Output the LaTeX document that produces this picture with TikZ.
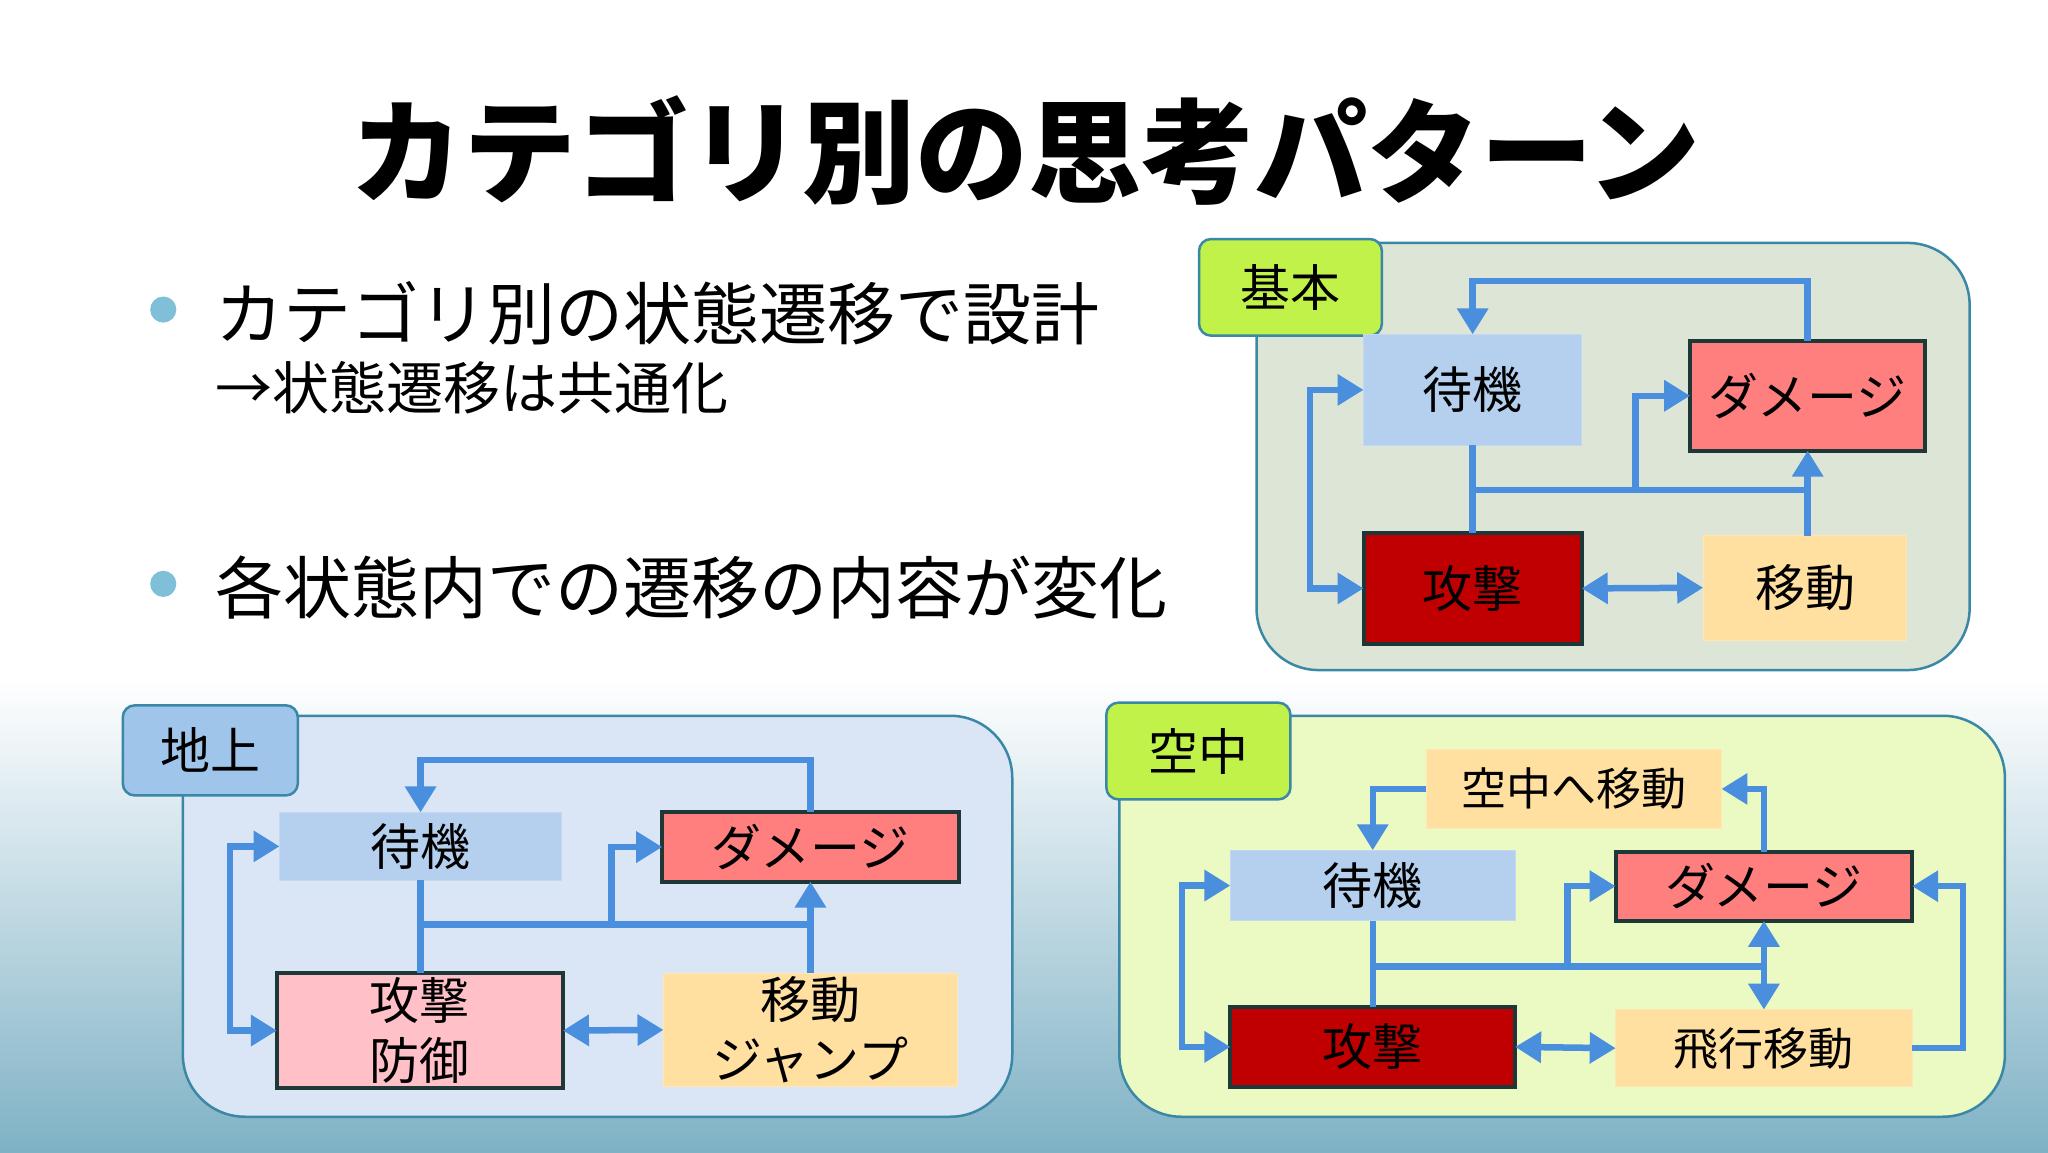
\documentclass[tikz,border=0pt]{standalone}
\usepackage{fontspec}
\setmainfont{Noto Sans CJK JP}
\usetikzlibrary{arrows.meta,calc}
\definecolor{arr}{HTML}{4A8EDE}
\definecolor{tealc}{HTML}{3A88A6}
\definecolor{idle}{HTML}{B4D0EE}
\definecolor{dmg}{HTML}{FF7F7F}
\definecolor{atk}{HTML}{C00000}
\definecolor{mov}{HTML}{FFE0A0}
\definecolor{pinkc}{HTML}{FFC0C8}
\definecolor{lime}{HTML}{C0F24A}
\definecolor{edgec}{HTML}{1E3838}
\definecolor{p1}{HTML}{DDE6D6}
\definecolor{p2}{HTML}{DAE6F5}
\definecolor{p3}{HTML}{EBFAC3}
\definecolor{tag2}{HTML}{9FC5EA}
\definecolor{bul}{HTML}{7FC0D8}
\tikzset{
  st/.style={inner sep=0pt,outer sep=0pt,font=\fontsize{50}{60}\selectfont,align=center},
  idlebox/.style={st,fill=idle,draw=idle!80!white,line width=1pt},
  dmgbox/.style={st,fill=dmg,draw=edgec,line width=4pt},
  atkbox/.style={st,fill=atk,draw=edgec,line width=4pt},
  pinkbox/.style={st,fill=pinkc,draw=edgec,line width=4pt},
  movbox/.style={st,fill=mov,draw=mov!80!white,line width=1pt},
  panel/.style={rounded corners=62pt,draw=tealc,line width=2.5pt},
  tag/.style={rounded corners=12pt,draw=tealc,line width=2.5pt,inner sep=0pt,font=\fontsize{50}{60}\selectfont},
  con/.style={draw=arr,line width=6.5pt},
  a1/.style={con,-{Triangle[length=26pt,width=30pt]}},
  a2/.style={con,{Triangle[length=26pt,width=30pt]}-{Triangle[length=26pt,width=30pt]}},
}
\newcommand{\bx}[7]{\node[#6,minimum width={(#4-#2)*1.30612pt},minimum height={(#5-#3)*1.30612pt}] (#1) at ({(#2+#4)/2},{(#3+#5)/2}) {#7};}
\begin{document}
\begin{tikzpicture}[x=1.30612pt,y=-1.30612pt]
\useasboundingbox (0,0) rectangle (1568,882);
\fill[white] (0,0) rectangle (1568,520);
\shade[top color=white,bottom color=tealc!65] (0,520) rectangle (1568,882);
% title
\node[font=\fontsize{113}{120}\selectfont\bfseries] (title) at (785,115) {カテゴリ別の思考パターン};
% bullets
\fill[bul] (125,237) circle (10);
\fill[bul] (125,447) circle (10);
\node[anchor=west,font=\fontsize{68}{80}\selectfont] (b1) at (162,240) {カテゴリ別の状態遷移で設計};
\node[anchor=west,font=\fontsize{57}{66}\selectfont] (b1s) at (162,297) {→状態遷移は共通化};
\node[anchor=west,font=\fontsize{68}{80}\selectfont] (b2) at (162,450) {各状態内での遷移の内容が変化};
% ===== panel 1
\draw[panel,fill=p1] (962,186) rectangle (1508,513);
\bx{t1}{918}{183}{1058}{257}{tag,fill=lime}{基本}
\bx{tk1}{1044}{256}{1211}{341}{idlebox}{待機}
\bx{dm1}{1294}{261}{1474}{345}{dmgbox}{ダメージ}
\bx{at1}{1044}{408}{1211}{493}{atkbox}{攻撃}
\bx{mv1}{1304}{410}{1460}{490}{movbox}{移動}
\coordinate (j1a) at (1127.5,375);
\coordinate (j1b) at (1383,375);
\coordinate (j1c) at (1252,375);
\draw[a1] (dm1.north) -- ++(0,-46) -| (tk1.north);
\draw[a2] (tk1.west) -- ++(-41,0) |- (at1.west);
\draw[con] (tk1.south) -- (at1.north);
\draw[con] (j1a) -- (j1b);
\draw[a1] (j1c) |- (dm1.west);
\draw[a1] (mv1.north -| dm1.south) -- (dm1.south);
\draw[a2] (at1.east) -- (mv1.west);
% ===== panel 2
\draw[panel,fill=p2] (140,548) rectangle (775,855);
\bx{t2}{94}{540}{228}{609}{tag,fill=tag2}{地上}
\bx{tk2}{214}{622}{430}{674}{idlebox}{待機}
\bx{dm2}{507}{622}{734}{675}{dmgbox}{ダメージ}
\bx{at2}{212}{745}{431}{833}{pinkbox}{攻撃\\防御}
\bx{mv2}{508}{745}{733}{832}{movbox}{移動\\ジャンプ}
\coordinate (j2a) at (321.5,708);
\coordinate (j2b) at (620.5,708);
\coordinate (j2c) at (468,708);
\draw[a1] (dm2.north) -- ++(0,-40) -| (tk2.north);
\draw[a2] (tk2.west) -- ++(-38,0) |- (at2.west);
\draw[con] (tk2.south) -- (tk2.south |- at2.north);
\draw[con] (j2a) -- (j2b);
\draw[a1] (j2c) |- (dm2.west);
\draw[a1] (mv2.north) -- (dm2.south);
\draw[a2] (at2.east) -- (mv2.west);
% ===== panel 3
\draw[panel,fill=p3] (857,548) rectangle (1535,855);
\bx{t3}{847}{538}{988}{612}{tag,fill=lime}{空中}
\bx{sk}{1092}{574}{1318}{634}{movbox,font=\fontsize{45}{54}\selectfont}{空中へ移動}
\bx{tk3}{942}{651}{1160}{705}{idlebox}{待機}
\bx{dm3}{1237}{652}{1464}{705}{dmgbox}{ダメージ}
\bx{at3}{942}{771}{1160}{832}{atkbox}{攻撃}
\bx{fm}{1237}{773}{1464}{832}{movbox,font=\fontsize{45}{54}\selectfont}{飛行移動}
\coordinate (j3a) at (1051,740);
\coordinate (j3b) at (1350.5,740);
\coordinate (j3c) at (1200,740);
\draw[a1] (sk.west) -- ++(-40,0) -| (tk3.north);
\draw[a1] (dm3.north) |- (sk.east);
\draw[a2] (tk3.west) -- ++(-37,0) |- (at3.west);
\draw[con] (tk3.south) -- (at3.north);
\draw[con] (j3a) -- (j3b);
\draw[a1] (j3c) |- (dm3.west);
\draw[a2] (dm3.south) -- (fm.north);
\draw[a1] (fm.east) -- ++(39,0) |- (dm3.east);
\draw[a2] (at3.east) -- (fm.west);
\end{tikzpicture}
\end{document}
